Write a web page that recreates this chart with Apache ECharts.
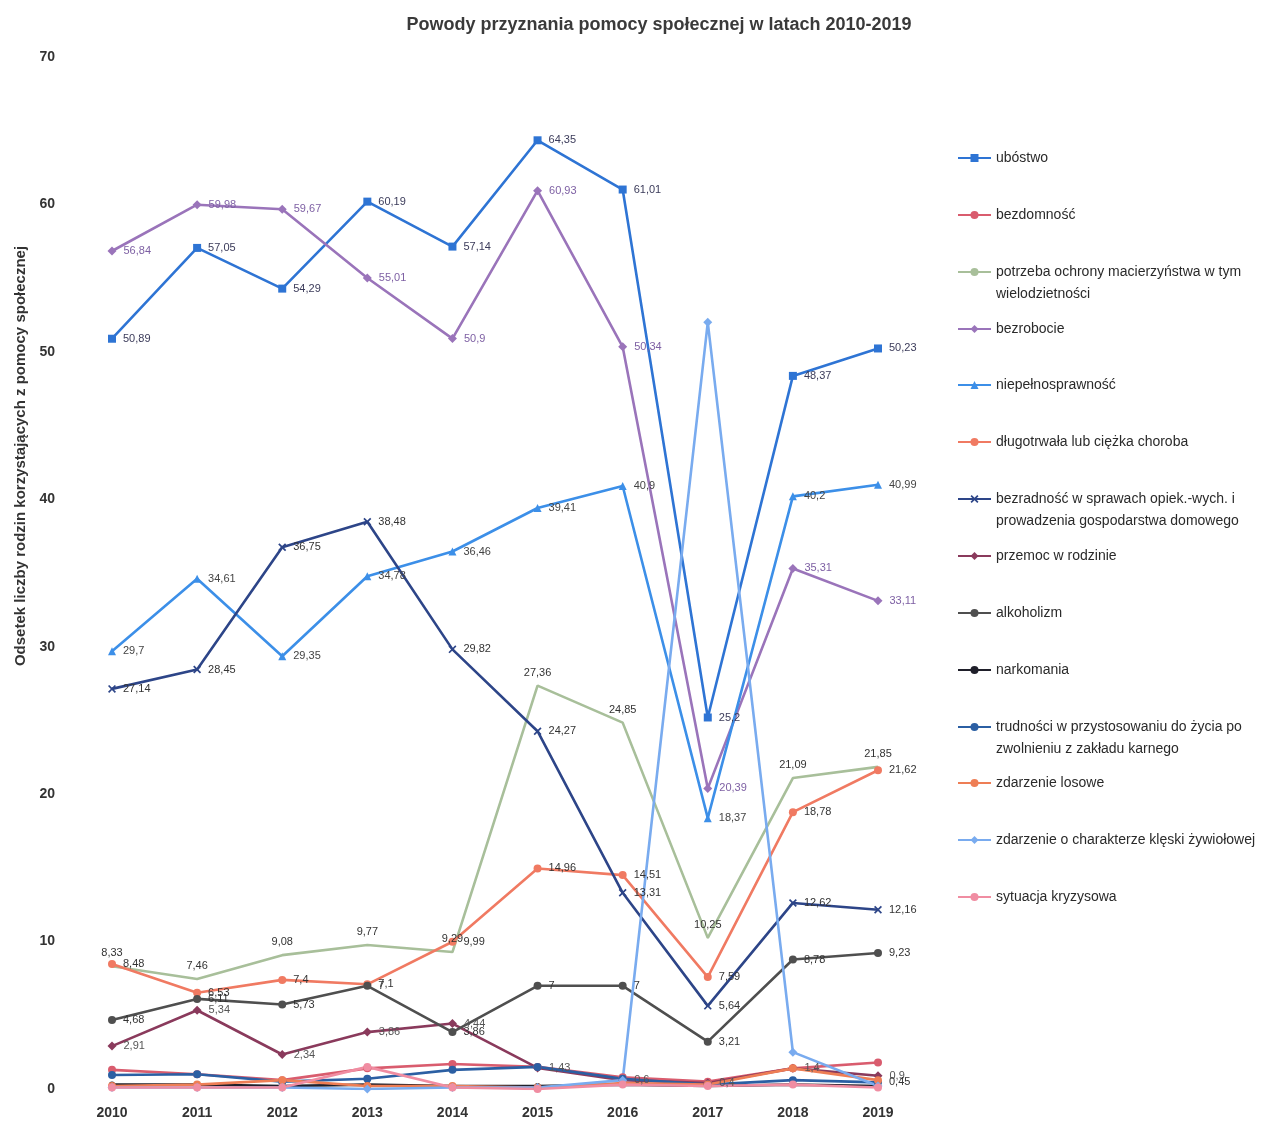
<!DOCTYPE html>
<html>
<head>
<meta charset="utf-8">
<script src="https://cdn.jsdelivr.net/npm/echarts@6/dist/echarts.min.js"></script>
<style>html,body{margin:0;padding:0;background:#fff}#c{width:1279px;height:1122px}</style>
</head>
<body>
<div id="c"></div>
<script>
const years = ['2010','2011','2012','2013','2014','2015','2016','2017','2018','2019'];
const yTicks = [0,10,20,30,40,50,60,70];

const ubostwo          = [50.89, 57.05, 54.29, 60.19, 57.14, 64.35, 61.01, 25.2, 48.37, 50.23];
const bezdomnosc       = [1.3, 1.0, 0.6, 1.4, 1.7, 1.5, 0.8, 0.5, 1.4, 1.8];
const macierzynstwo    = [8.33, 7.46, 9.08, 9.77, 9.29, 27.36, 24.85, 10.25, 21.09, 21.85];
const bezrobocie       = [56.84, 59.98, 59.67, 55.01, 50.9, 60.93, 50.34, 20.39, 35.31, 33.11];
const niepelnosprawnosc= [29.7, 34.61, 29.35, 34.78, 36.46, 39.41, 40.9, 18.37, 40.2, 40.99];
const choroba          = [8.48, 6.53, 7.4, 7.1, 9.99, 14.96, 14.51, 7.59, 18.78, 21.62];
const bezradnosc       = [27.14, 28.45, 36.75, 38.48, 29.82, 24.27, 13.31, 5.64, 12.62, 12.16];
const przemoc          = [2.91, 5.34, 2.34, 3.86, 4.44, 1.43, 0.6, 0.4, 1.4, 0.9];
const alkoholizm       = [4.68, 6.11, 5.73, 7, 3.86, 7, 7, 3.21, 8.78, 9.23];
const narkomania       = [0.3, 0.3, 0.2, 0.3, 0.2, 0.2, 0.3, 0.2, 0.3, 0.2];
const trudnosci        = [0.95, 1.0, 0.5, 0.7, 1.3, 1.5, 0.7, 0.3, 0.6, 0.45];
const losowe           = [0.2, 0.3, 0.6, 0.2, 0.2, 0.1, 0.4, 0.3, 1.4, 0.6];
const kleska           = [0.1, 0.1, 0.1, 0.0, 0.1, 0.1, 0.6, 52.0, 2.5, 0.2];
const kryzysowa        = [0.1, 0.1, 0.1, 1.5, 0.1, 0.0, 0.3, 0.2, 0.3, 0.1];

const names = [
  'ubóstwo',
  'bezdomność',
  'potrzeba ochrony macierzyństwa w tym wielodzietności',
  'bezrobocie',
  'niepełnosprawność',
  'długotrwała lub ciężka choroba',
  'bezradność w sprawach opiek.-wych. i prowadzenia gospodarstwa domowego',
  'przemoc w rodzinie',
  'alkoholizm',
  'narkomania',
  'trudności w przystosowaniu do życia po zwolnieniu z zakładu karnego',
  'zdarzenie losowe',
  'zdarzenie o charakterze klęski żywiołowej',
  'sytuacja kryzysowa'
];
const legendLines = {
  'potrzeba ochrony macierzyństwa w tym wielodzietności': ['potrzeba ochrony macierzyństwa w tym', 'wielodzietności'],
  'bezradność w sprawach opiek.-wych. i prowadzenia gospodarstwa domowego': ['bezradność w sprawach opiek.-wych. i', 'prowadzenia gospodarstwa domowego'],
  'trudności w przystosowaniu do życia po zwolnieniu z zakładu karnego': ['trudności w przystosowaniu do życia po', 'zwolnieniu z zakładu karnego']
};
const dataSets = [ubostwo, bezdomnosc, macierzynstwo, bezrobocie, niepelnosprawnosc, choroba, bezradnosc,
  przemoc, alkoholizm, narkomania, trudnosci, losowe, kleska, kryzysowa];

const xPath = 'path://M0,1.5L1.5,0L5,3.5L8.5,0L10,1.5L6.5,5L10,8.5L8.5,10L5,6.5L1.5,10L0,8.5L3.5,5Z';
const styles = [
  {color:'#2E74D4', symbol:'rect', size:8, label:true, lc:'#3b3b5a'},
  {color:'#D95C6E', symbol:'circle', size:8, label:false},
  {color:'#A8BF9A', symbol:'circle', size:1, label:true, lc:'#333', pos:'top'},
  {color:'#9A74BA', symbol:'diamond', size:9, label:true, lc:'#7d5fa3'},
  {color:'#3C8FE8', symbol:'triangle', size:8, label:true, lc:'#444'},
  {color:'#F07A62', symbol:'circle', size:8, label:true, lc:'#333'},
  {color:'#2D4588', symbol:xPath, size:8, label:true, lc:'#333'},
  {color:'#8A3A5C', symbol:'diamond', size:9, label:true, lc:'#555'},
  {color:'#4F4F4F', symbol:'circle', size:8, label:true, lc:'#333'},
  {color:'#1F1F2A', symbol:'circle', size:6, label:false},
  {color:'#2B5FA3', symbol:'circle', size:8, label:false},
  {color:'#EE7E55', symbol:'circle', size:8, label:false},
  {color:'#79ABEF', symbol:'diamond', size:9, label:false},
  {color:'#F08DA2', symbol:'circle', size:8, label:false}
];

function fmt(v){ return String(v).replace('.', ','); }

const series = names.map((n, i) => {
  const s = styles[i];
  return {
    name: n,
    type: 'line',
    data: dataSets[i],
    symbol: s.symbol,
    symbolSize: s.size,
    showSymbol: true,
    lineStyle: {color: s.color, width: 2.6},
    itemStyle: {color: s.color},
    label: {
      show: s.label,
      position: s.pos || 'right',
      distance: 7,
      fontFamily: 'Liberation Sans',
      fontSize: 11,
      color: s.lc,
      formatter: p => fmt(p.value)
    }
  };
});

series[10].label = {show: true, position: 'right', distance: 7, fontSize: 11, color: '#333', fontFamily: 'Liberation Sans',
  formatter: p => (p.dataIndex === 9 ? fmt(p.value) : '')};

const legendTop0 = 153, legendStep = 56.85, lineH = 22;
const legends = names.map((n, i) => {
  const two = !!legendLines[n];
  const c = legendTop0 + i * legendStep;
  return {
    data: [n],
    orient: 'vertical',
    left: 952,
    top: Math.round(c - (two ? 1.5 : 0.5) * lineH),
    itemWidth: 33,
    itemHeight: 10,
    itemGap: 0,
    textStyle: {fontFamily: 'Liberation Sans', fontSize: 14, color: '#2a2a2a', lineHeight: lineH},
    formatter: name => legendLines[name] ? ' \n' + legendLines[name][0] + '\n' + legendLines[name][1] : name
  };
});

const chart = echarts.init(document.getElementById('c'), null, {renderer: 'canvas'});
chart.setOption({
  animation: false,
  backgroundColor: '#fff',
  title: {
    text: 'Powody przyznania pomocy społecznej w latach 2010-2019',
    left: 654, top: 11, textAlign: 'center',
    textStyle: {fontFamily: 'Liberation Sans', fontSize: 18, fontWeight: 'bold', color: '#3a3a3a'}
  },
  legend: legends,
  grid: {left: 112, right: 401, top: 57, bottom: 33},
  xAxis: {
    type: 'category', data: years, boundaryGap: false,
    axisLine: {show: false}, axisTick: {show: false}, splitLine: {show: false},
    axisLabel: {margin: 17, fontFamily: 'Liberation Sans', fontSize: 14, fontWeight: 'bold', color: '#333'}
  },
  yAxis: {
    type: 'value', min: yTicks[0], max: yTicks[yTicks.length - 1], interval: 10,
    axisLine: {show: false}, axisTick: {show: false}, splitLine: {show: false},
    axisLabel: {margin: 57, fontFamily: 'Liberation Sans', fontSize: 14, fontWeight: 'bold', color: '#333'},
    name: 'Odsetek liczby rodzin korzystających z pomocy społecznej',
    nameLocation: 'middle', nameGap: 84, nameRotate: 90,
    nameTextStyle: {fontFamily: 'Liberation Sans', fontSize: 15, fontWeight: 'bold', color: '#333', padding: [0, 0, 0, 234]}
  },
  series: series
});
</script>
</body>
</html>
